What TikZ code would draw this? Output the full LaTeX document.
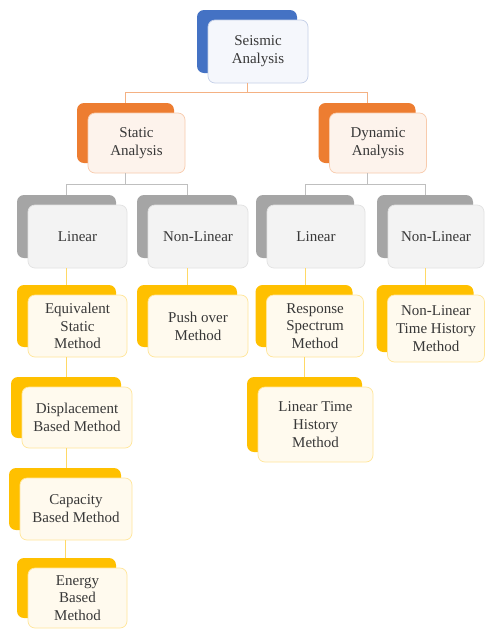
\documentclass[tikz,border=0pt]{standalone}
\usepackage{fontspec}
\setmainfont{Liberation Serif}
\definecolor{bluback}{HTML}{4472C4}
\definecolor{blufill}{HTML}{F5F7FC}
\definecolor{bluline}{HTML}{C5D0E8}
\definecolor{orback}{HTML}{ED7D31}
\definecolor{orfill}{HTML}{FDF3EC}
\definecolor{orline}{HTML}{F8CBAD}
\definecolor{grback}{HTML}{A5A5A5}
\definecolor{grfill}{HTML}{F3F3F3}
\definecolor{grline}{HTML}{E2E2E2}
\definecolor{goback}{HTML}{FFC000}
\definecolor{gofill}{HTML}{FFFAEE}
\definecolor{goline}{HTML}{FFE699}
\definecolor{txtgray}{HTML}{383838}
\definecolor{conor}{HTML}{F4B183}
\definecolor{congr}{HTML}{BFBFBF}
\definecolor{congo}{HTML}{FFD966}
\tikzset{
  backbox/.style={fill=#1back, rounded corners=7pt, inner sep=0pt},
  frontbox/.style={fill=#1fill, draw=#1line, line width=0.7pt, rounded corners=7pt,
    text=txtgray, align=center, inner sep=1pt,
    font=\fontsize{15}{17.8}\selectfont},
  conn/.style={draw=#1, line width=1pt}
}
\newcommand\mkpair[7]{%
  \node[backbox=#6, minimum width=#4pt, minimum height=#5pt] (#1B) at (#2-11,#3-10) {};
  \node[frontbox=#6, minimum width=#4pt, minimum height=#5pt] (#1) at (#2,#3) {#7};
}
\begin{document}
\begin{tikzpicture}[x=1pt,y=-1pt]
\useasboundingbox[fill=white] (0,0) rectangle (485,630);
\coordinate (lvA) at (0,92);
\coordinate (lvB) at (0,184);
\mkpair{seis}{258}{51.5}{100}{63}{blu}{Seismic\\Analysis}
\mkpair{stat}{136.5}{143}{97}{60}{or}{Static\\Analysis}
\mkpair{dyn}{378}{143}{97}{60}{or}{Dynamic\\Analysis}
\mkpair{linL}{77.5}{236.5}{99}{63}{gr}{Linear}
\mkpair{nlL}{198}{236.5}{100}{63}{gr}{Non-Linear}
\mkpair{linR}{316}{236.5}{98}{63}{gr}{Linear}
\mkpair{nlR}{436}{236.5}{96}{63}{gr}{Non-Linear}
\mkpair{equi}{77.5}{326}{99}{62}{go}{Equivalent\\Static\\Method}
\mkpair{push}{198}{326}{100}{62}{go}{Push over\\Method}
\mkpair{resp}{315}{326}{97}{62}{go}{Response\\Spectrum\\Method}
\mkpair{nlth}{436}{328.5}{97}{67}{go}{Non-Linear\\Time History\\Method}
\mkpair{disp}{77}{417.5}{110}{61}{go}{Displacement\\Based Method}
\mkpair{lth}{315.5}{424.5}{115}{75}{go}{Linear Time\\History\\Method}
\mkpair{capa}{76}{509}{112}{62}{go}{Capacity\\Based Method}
\mkpair{ener}{77.5}{598}{99}{60}{go}{Energy\\Based\\Method}
% connectors
\draw[conn=conor] (seisB.center |- seis.south) -- (seisB.center |- lvA) -| (statB.north);
\draw[conn=conor] (seisB.center |- lvA) -| (dynB.north);
\draw[conn=congr] (statB.center |- stat.south) -- (statB.center |- lvB) -| (linLB.north);
\draw[conn=congr] (statB.center |- lvB) -| (nlLB.north);
\draw[conn=congr] (dynB.center |- dyn.south) -- (dynB.center |- lvB) -| (linRB.north);
\draw[conn=congr] (dynB.center |- lvB) -| (nlRB.north);
\draw[conn=congo] (linLB.center |- linL.south) -- (linLB.center |- equiB.north);
\draw[conn=congo] (nlLB.center |- nlL.south) -- (nlLB.center |- pushB.north);
\draw[conn=congo] (linRB.center |- linR.south) -- (linRB.center |- respB.north);
\draw[conn=congo] (nlRB.center |- nlR.south) -- (nlRB.center |- nlthB.north);
\draw[conn=congo] (equiB.center |- equi.south) -- (equiB.center |- dispB.north);
\draw[conn=congo] (respB.center |- resp.south) -- (respB.center |- lthB.north);
\draw[conn=congo] (dispB.center |- disp.south) -- (dispB.center |- capaB.north);
\draw[conn=congo] (capaB.center |- capa.south) -- (capaB.center |- enerB.north);
\end{tikzpicture}
\end{document}
